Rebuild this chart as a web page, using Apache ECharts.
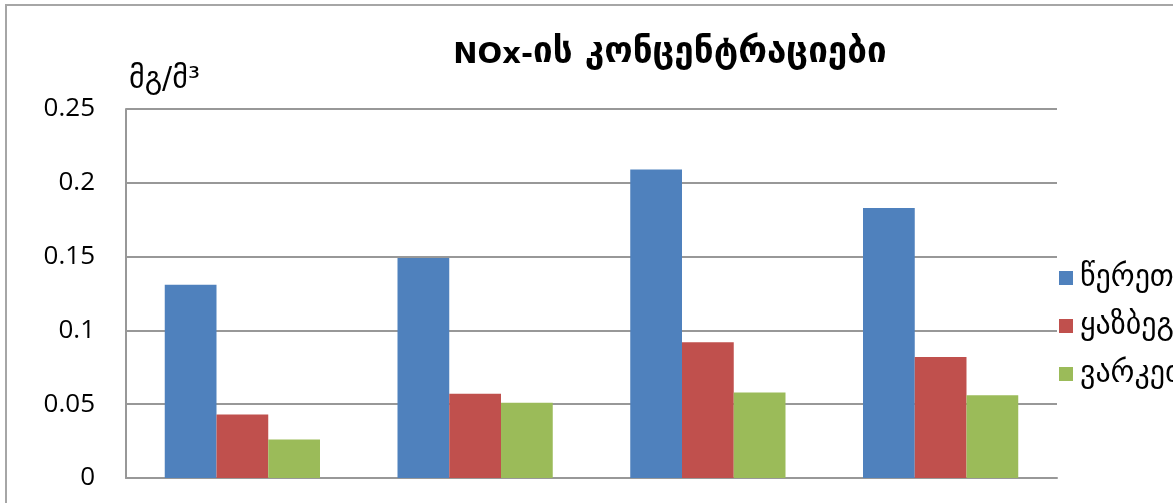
<!DOCTYPE html>
<html>
<head>
<meta charset="utf-8">
<script src="https://cdn.jsdelivr.net/npm/echarts@6/dist/echarts.min.js"></script>
<style>
  html, body { margin: 0; padding: 0; background: #fff; }
  #chart { width: 1173px; height: 503px; }
</style>
</head>
<body>
<div id="chart"></div>
<script>
// NOx concentrations (mg/m³) at three monitoring sites, four periods
const categories = ['I', 'II', 'III', 'IV'];
const seriesNames = ['წერეთლის გამზ.', 'ყაზბეგის გამზ.', 'ვარკეთილი'];
const tsereteli = [0.131, 0.149, 0.209, 0.183];
const kazbegi = [0.043, 0.057, 0.092, 0.082];
const varketili = [0.026, 0.051, 0.058, 0.056];
const yTicks = [0, 0.05, 0.1, 0.15, 0.2, 0.25];

const colors = ['#4F81BD', '#C0504D', '#9BBB59'];
const values = [tsereteli, kazbegi, varketili];
const geoFont = '"DejaVu Sans", sans-serif';
const numFont = '"Open Sans", "Noto Sans", sans-serif';
const lineGray = '#989898';

const chart = echarts.init(document.getElementById('chart'), null, { renderer: 'canvas' });

chart.setOption({
  animation: false,
  backgroundColor: '#fff',
  title: {
    text: '{a|NOx-}{b|ის კონცენტრაციები}',
    left: 665,
    textAlign: 'center',
    top: 29,
    textStyle: {
      rich: {
        a: { fontFamily: geoFont, fontSize: 29, fontWeight: 'bold', color: '#000', verticalAlign: 'bottom', lineHeight: 36 },
        b: { fontFamily: geoFont, fontSize: 35, fontWeight: 'bold', color: '#000', verticalAlign: 'bottom', lineHeight: 36 }
      }
    }
  },
  graphic: [
    {
      type: 'rect',
      shape: { x: 6, y: 5, width: 1400, height: 800 },
      style: { fill: 'none', stroke: '#a6a6a6', lineWidth: 2 },
      silent: true
    },
    {
      type: 'text',
      left: 129,
      top: 65,
      style: { text: 'მგ/მ³', font: '30px "DejaVu Sans", sans-serif', fill: '#000' }
    }
  ],
  legend: {
    orient: 'vertical',
    left: 1059,
    top: 263,
    padding: 0,
    itemWidth: 14,
    itemHeight: 14,
    itemGap: 18,
    icon: 'rect',
    textStyle: { fontFamily: geoFont, fontSize: 30, color: '#000', padding: [0, 0, 0, 2] },
    data: seriesNames
  },
  grid: { left: 126, right: 116, top: 109, bottom: 25, containLabel: false },
  xAxis: {
    type: 'category',
    data: categories,
    axisLine: { show: true, lineStyle: { color: lineGray, width: 2 } },
    axisTick: { show: false },
    axisLabel: { show: false },
    splitLine: { show: false }
  },
  yAxis: {
    type: 'value',
    min: 0,
    max: 0.25,
    interval: 0.05,
    axisLine: { show: true, lineStyle: { color: lineGray, width: 2 } },
    axisTick: { show: false },
    axisLabel: {
      margin: 31,
      fontFamily: numFont,
      fontSize: 26,
      color: '#000',
      formatter: v => {
        const t = yTicks.find(x => Math.abs(x - v) < 1e-9);
        return t === undefined ? '' : String(t);
      }
    },
    splitLine: { show: true, lineStyle: { color: lineGray, width: 2 } }
  },
  series: values.map((data, i) => ({
    name: seriesNames[i],
    type: 'bar',
    data: data,
    barGap: '0%',
    barCategoryGap: '33.3%',
    itemStyle: { color: colors[i] }
  }))
});
</script>
</body>
</html>
